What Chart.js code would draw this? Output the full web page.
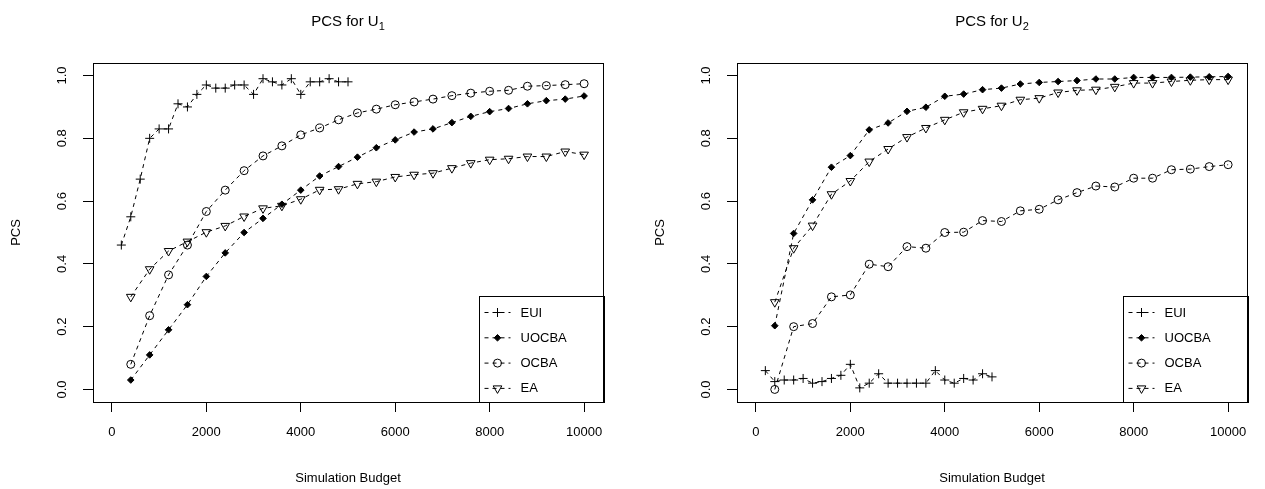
<!DOCTYPE html>
<html><head><meta charset="utf-8">
<script src="https://cdn.jsdelivr.net/npm/chart.js@4.4.1/dist/chart.umd.min.js"></script>
<style>
html,body{margin:0;padding:0;background:#fff;}
#wrap{position:relative;width:1265px;height:489px;overflow:hidden;background:#fff;}
.pane{position:absolute;top:0;width:621px;height:489px;}
canvas{display:block;}
</style></head><body>
<div id="wrap">
<div class="pane" style="left:0px"><canvas id="c1" width="621" height="489"></canvas></div>
<div class="pane" style="left:644px"><canvas id="c2" width="621" height="489"></canvas></div>
</div>
<script>
// ---------- data ----------
const budgetEUI = [200,400,600,800,1000,1200,1400,1600,1800,2000,2200,2400,2600,2800,3000,3200,3400,3600,3800,4000,4200,4400,4600,4800,5000];
const budgetOther = [400,800,1200,1600,2000,2400,2800,3200,3600,4000,4400,4800,5200,5600,6000,6400,6800,7200,7600,8000,8400,8800,9200,9600,10000];
const seriesNames = ['EUI','UOCBA','OCBA','EA'];

const u1EUI   = [0.46,0.55,0.67,0.80,0.83,0.83,0.91,0.90,0.94,0.97,0.96,0.96,0.97,0.97,0.94,0.99,0.98,0.97,0.99,0.94,0.98,0.98,0.99,0.98,0.98];
const u1UOCBA = [0.03,0.11,0.19,0.27,0.36,0.435,0.50,0.545,0.59,0.635,0.68,0.71,0.74,0.77,0.795,0.82,0.83,0.85,0.87,0.885,0.895,0.91,0.92,0.925,0.935];
const u1OCBA  = [0.08,0.235,0.365,0.46,0.567,0.635,0.697,0.744,0.776,0.811,0.833,0.859,0.881,0.893,0.907,0.916,0.925,0.936,0.944,0.95,0.953,0.966,0.968,0.971,0.974];
const u1EA    = [0.295,0.383,0.441,0.471,0.501,0.521,0.551,0.577,0.585,0.606,0.636,0.638,0.655,0.662,0.677,0.684,0.689,0.705,0.721,0.732,0.735,0.742,0.742,0.758,0.748];

const u2EUI   = [0.06,0.025,0.03,0.03,0.035,0.02,0.025,0.035,0.045,0.08,0.005,0.02,0.05,0.02,0.02,0.02,0.02,0.02,0.06,0.03,0.02,0.035,0.03,0.05,0.04];
const u2UOCBA = [0.203,0.497,0.604,0.708,0.745,0.827,0.849,0.886,0.899,0.934,0.941,0.955,0.96,0.973,0.978,0.981,0.984,0.989,0.989,0.994,0.994,0.994,0.995,0.996,0.997];
const u2OCBA  = [0.0,0.2,0.21,0.295,0.301,0.399,0.391,0.455,0.45,0.5,0.501,0.538,0.535,0.569,0.574,0.604,0.627,0.648,0.645,0.673,0.673,0.7,0.702,0.71,0.716];
const u2EA    = [0.278,0.45,0.522,0.622,0.664,0.726,0.766,0.804,0.833,0.859,0.883,0.894,0.904,0.923,0.928,0.946,0.953,0.955,0.964,0.976,0.976,0.981,0.985,0.987,0.987];

const xTicks = [0,2000,4000,6000,8000,10000];
const xTickLabels = ['0','2000','4000','6000','8000','10000'];
const yTicks = [0,0.2,0.4,0.6,0.8,1.0];
const yTickLabels = ['0.0','0.2','0.4','0.6','0.8','1.0'];
const titleMain = 'PCS for U';
const titleSubs = ['1','2'];
const xTitle = 'Simulation Budget';
const yTitle = 'PCS';

// ---------- styles ----------
const FONT = '"Liberation Sans", Arial, Helvetica, sans-serif';
const styles = [
  {pointStyle:'cross', radius:4.5, rotation:0, fill:'rgba(0,0,0,0)'},
  {pointStyle:'rectRot', radius:3.3, rotation:0, fill:'#000'},
  {pointStyle:'circle', radius:4, rotation:0, fill:'rgba(0,0,0,0)'},
  {pointStyle:'triangle', radius:5, rotation:180, fill:'rgba(0,0,0,0)'}
];

function mkData(xs, ys){ return xs.map((x,i)=>({x:x, y:ys[i]})); }

function mkDataset(name, xs, ys, st){
  return {
    label:name, data:mkData(xs,ys),
    borderColor:'#000', borderWidth:1, borderDash:[4,4], tension:0, fill:false,
    pointStyle:st.pointStyle, pointRadius:st.radius, pointRotation:st.rotation,
    pointBorderColor:'#000', pointBackgroundColor:st.fill, pointBorderWidth:1,
    pointHoverRadius:st.radius
  };
}

const decorPlugin = {
  id:'decor',
  afterDraw(chart, args, opts){
    const ctx = chart.ctx, ca = chart.chartArea;
    ctx.save();
    // box
    ctx.strokeStyle = '#000'; ctx.lineWidth = 1; ctx.setLineDash([]);
    ctx.strokeRect(Math.round(ca.left)+0.5, Math.round(ca.top)+0.5, Math.round(ca.right-ca.left), Math.round(ca.bottom-ca.top));
    // y tick labels (rotated, R style)
    const ys = chart.scales.y;
    ctx.fillStyle = '#000';
    ctx.font = '13px ' + FONT;
    ctx.textAlign = 'center'; ctx.textBaseline = 'middle';
    ys.ticks.forEach((t,i)=>{
      const py = ys.getPixelForValue(t.value);
      ctx.save(); ctx.translate(opts.yLabelX, py); ctx.rotate(-Math.PI/2);
      ctx.fillText(yTickLabels[i], 0, 0); ctx.restore();
    });
    // title with subscript
    const cx = (ca.left + ca.right)/2;
    ctx.font = '15px ' + FONT;
    const w1 = ctx.measureText(titleMain).width;
    ctx.font = '11px ' + FONT;
    const w2 = ctx.measureText(opts.sub).width;
    const x0 = cx - (w1+w2)/2;
    ctx.textAlign = 'left'; ctx.textBaseline = 'alphabetic';
    ctx.font = '15px ' + FONT;
    ctx.fillText(titleMain, x0, 26);
    ctx.font = '11px ' + FONT;
    ctx.fillText(opts.sub, x0 + w1, 30);
    // legend (bottom-right, R style)
    const lw = 124.5, lh = 106;
    const lx = ca.right - lw, ly = ca.bottom - lh;
    ctx.fillStyle = '#fff';
    ctx.fillRect(lx, ly, lw, lh);
    ctx.strokeStyle = '#000';
    ctx.strokeRect(Math.round(lx)+0.5, Math.round(ly)+0.5, Math.round(lw), Math.round(lh));
    chart.data.datasets.forEach((ds,i)=>{
      const rowY = ly + 16.5 + i*25.3;
      ctx.setLineDash([4,4]); ctx.lineWidth = 1; ctx.strokeStyle = '#000';
      ctx.beginPath(); ctx.moveTo(lx+6, rowY); ctx.lineTo(lx+32, rowY); ctx.stroke();
      ctx.setLineDash([]);
      const st = styles[i];
      ctx.fillStyle = st.fill;
      Chart.helpers.drawPoint(ctx, {pointStyle:st.pointStyle, radius:st.radius, rotation:st.rotation, borderWidth:1}, lx+19, rowY);
      ctx.fillStyle = '#000';
      ctx.font = '13px ' + FONT; ctx.textAlign = 'left'; ctx.textBaseline = 'middle';
      ctx.fillText(ds.label, lx+42, rowY+0.5);
    });
    ctx.restore();
  }
};

function mkChart(id, sub, dEUI, dUOCBA, dOCBA, dEA){
  return new Chart(document.getElementById(id), {
    type:'line',
    data:{ datasets:[
      mkDataset(seriesNames[0], budgetEUI, dEUI, styles[0]),
      mkDataset(seriesNames[1], budgetOther, dUOCBA, styles[1]),
      mkDataset(seriesNames[2], budgetOther, dOCBA, styles[2]),
      mkDataset(seriesNames[3], budgetOther, dEA, styles[3])
    ]},
    options:{
      responsive:false, animation:false, devicePixelRatio:1,
      layout:{padding:{left:0, top:63, right:18, bottom:0}},
      plugins:{ legend:{display:false}, title:{display:false}, tooltip:{enabled:false},
        decor:{sub:sub, yLabelX:62} },
      scales:{
        x:{ type:'linear', min:-400, max:10400,
          afterBuildTicks:(s)=>{ s.ticks = xTicks.map(v=>({value:v})); },
          afterFit:(s)=>{ s.height = 87; },
          grid:{display:true, drawOnChartArea:false, drawTicks:true, tickLength:10, color:'#000', lineWidth:1},
          border:{display:false},
          ticks:{color:'#000', font:{family:FONT, size:13}, padding:13, maxRotation:0, minRotation:0, autoSkip:false,
            callback:(v)=>{ const k = xTicks.indexOf(v); return k>=0 ? xTickLabels[k] : ''; }},
          title:{display:true, text:xTitle, color:'#000', font:{family:FONT, size:13}, padding:{top:0, bottom:3}}
        },
        y:{ type:'linear', min:-0.04, max:1.04,
          afterBuildTicks:(s)=>{ s.ticks = yTicks.map(v=>({value:v})); },
          afterFit:(s)=>{ s.width = 93; },
          grid:{display:true, drawOnChartArea:false, drawTicks:true, tickLength:10, color:'#000', lineWidth:1},
          border:{display:false},
          ticks:{display:false},
          title:{display:true, text:yTitle, color:'#000', font:{family:FONT, size:13}, padding:{top:9, bottom:0}}
        }
      }
    },
    plugins:[decorPlugin]
  });
}

mkChart('c1', titleSubs[0], u1EUI, u1UOCBA, u1OCBA, u1EA);
mkChart('c2', titleSubs[1], u2EUI, u2UOCBA, u2OCBA, u2EA);
</script>
</body></html>
